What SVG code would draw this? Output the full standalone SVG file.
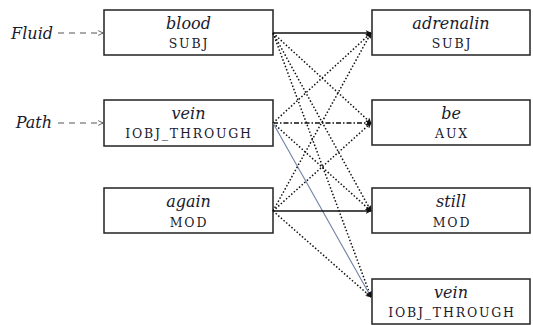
<svg xmlns="http://www.w3.org/2000/svg" width="533" height="325" viewBox="0 0 533 325">
  <style>
    .box { fill: #ffffff; stroke: #222222; stroke-width: 1.5; }
    text { font-family: 'DejaVu Serif', serif; fill: #1a1a2e; }
    .word { font-style: italic; font-size: 16px; text-anchor: middle; }
    .role { font-size: 12.5px; letter-spacing: 1.8px; text-anchor: middle; }
    .tag { font-style: italic; font-size: 16px; text-anchor: end; }
    .solid { stroke: #111111; stroke-width: 1.5; fill: none; }
    .dot { stroke: #111111; stroke-width: 1.5; fill: none; stroke-dasharray: 1.5 2; }
    .dashdot { stroke: #111111; stroke-width: 1.5; fill: none; stroke-dasharray: 5 2 1.5 2; }
    .thin { stroke: #6f83a8; stroke-width: 1.1; fill: none; }
    .feed { stroke: #555555; stroke-width: 1; fill: none; stroke-dasharray: 6 5; }
  </style>
  <defs>
    <marker id="head" viewBox="0 0 10 10" refX="9" refY="5" markerWidth="6" markerHeight="6" orient="auto" markerUnits="userSpaceOnUse">
      <path d="M0,0 L10,5 L0,10 L3,5 Z" fill="#111111"/>
    </marker>
    <marker id="openhead" viewBox="0 0 10 10" refX="9" refY="5" markerWidth="6" markerHeight="6" orient="auto" markerUnits="userSpaceOnUse">
      <path d="M1,1 L9,5 L1,9" fill="none" stroke="#555555" stroke-width="1.5"/>
    </marker>
  </defs>

  <!-- input tags feeding the source nodes -->
  <g id="tag-fluid">
    <text class="tag" x="53" y="39">Fluid</text>
    <line class="feed" x1="58" y1="33" x2="103" y2="33" marker-end="url(#openhead)"/>
  </g>
  <g id="tag-path">
    <text class="tag" x="52" y="128">Path</text>
    <line class="feed" x1="58" y1="123" x2="103" y2="123" marker-end="url(#openhead)"/>
  </g>

  <!-- source column -->
  <g id="src-blood">
    <rect class="box" x="104" y="10" width="169" height="45"/>
    <text class="word" x="188.5" y="29">blood</text>
    <text class="role" x="189" y="48">SUBJ</text>
  </g>
  <g id="src-vein">
    <rect class="box" x="104" y="100" width="169" height="46"/>
    <text class="word" x="188.5" y="119">vein</text>
    <text class="role" x="189" y="138">IOBJ_THROUGH</text>
  </g>
  <g id="src-again">
    <rect class="box" x="104" y="188" width="169" height="45"/>
    <text class="word" x="188.5" y="207">again</text>
    <text class="role" x="189" y="227">MOD</text>
  </g>

  <!-- target column -->
  <g id="tgt-adrenalin">
    <rect class="box" x="372" y="10" width="158" height="45"/>
    <text class="word" x="451" y="29">adrenalin</text>
    <text class="role" x="452" y="48">SUBJ</text>
  </g>
  <g id="tgt-be">
    <rect class="box" x="372" y="100" width="158" height="45"/>
    <text class="word" x="451" y="119">be</text>
    <text class="role" x="452" y="138">AUX</text>
  </g>
  <g id="tgt-still">
    <rect class="box" x="372" y="188" width="158" height="45"/>
    <text class="word" x="451" y="207">still</text>
    <text class="role" x="452" y="227">MOD</text>
  </g>
  <g id="tgt-vein">
    <rect class="box" x="372" y="279" width="158" height="45"/>
    <text class="word" x="451" y="298">vein</text>
    <text class="role" x="452" y="317">IOBJ_THROUGH</text>
  </g>

  <!-- alignment connectors -->
  <g id="connectors">
    <line class="solid" x1="273" y1="33" x2="371" y2="33" marker-end="url(#head)"/>
    <line class="dot" x1="273" y1="33" x2="371" y2="123" marker-end="url(#head)"/>
    <line class="dot" x1="273" y1="33" x2="371" y2="211" marker-end="url(#head)"/>
    <line class="dot" x1="273" y1="33" x2="371" y2="297" marker-end="url(#head)"/>

    <line class="dot" x1="273" y1="123" x2="371" y2="33" marker-end="url(#head)"/>
    <line class="dashdot" x1="273" y1="123" x2="371" y2="123" marker-end="url(#head)"/>
    <line class="dot" x1="273" y1="123" x2="371" y2="211" marker-end="url(#head)"/>
    <line class="thin" x1="273" y1="123" x2="371" y2="297" marker-end="url(#head)"/>

    <line class="dot" x1="273" y1="211" x2="371" y2="33" marker-end="url(#head)"/>
    <line class="dot" x1="273" y1="211" x2="371" y2="123" marker-end="url(#head)"/>
    <line class="solid" x1="273" y1="211" x2="371" y2="211" marker-end="url(#head)"/>
    <line class="dot" x1="273" y1="211" x2="371" y2="297" marker-end="url(#head)"/>
  </g>
</svg>
